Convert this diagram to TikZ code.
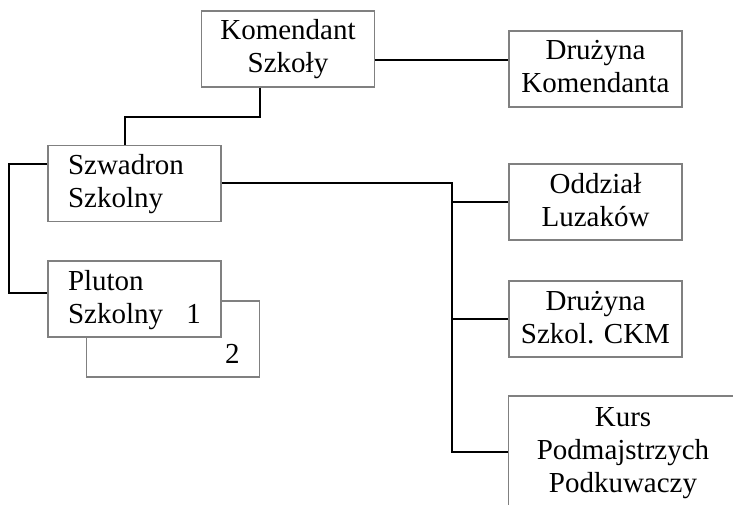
\documentclass[tikz,border=0pt]{standalone}
\usepackage{fontspec}
\setmainfont{Liberation Serif}
\definecolor{boxgray}{RGB}{128,128,128}
\newcommand\ls{\rule[-9pt]{0pt}{33pt}}
\begin{document}
\begin{tikzpicture}[x=1pt,y=-1pt,
  box/.style={draw=boxgray, line width=1.4pt, fill=white, minimum width=173pt,
    minimum height=76pt, inner sep=0pt, align=center, font=\fontsize{29}{33}\selectfont},
  lbox/.style={box, align=left, text width=133pt, inner xsep=20pt},
  rbox/.style={box, align=right, text width=133pt, inner xsep=20pt},
  conn/.style={line width=1.8pt, black}]
\useasboundingbox (0,0) rectangle (733,505);
\clip (0,0) rectangle (733,505);
% nodes
\node[box] (kom) at (288,49) {\ls Komendant\\\ls Szkoły};
\node[box] (dk) at (595.5,69) {\ls Drużyna\\\ls Komendanta};
\node[lbox] (szw) at (134.5,183.5) {\ls Szwadron\\\ls Szkolny};
\node[rbox] (plu2) at (173,339) {\ls\\\ls 2};
\node[lbox] (plu) at (134.5,299) {\ls Pluton\\\ls Szkolny\hskip0pt plus 1fill 1\hspace*{-3pt}};
\node[box] (odd) at (595.5,202) {\ls Oddział\\\ls Luzaków};
\node[box] (ckm) at (595.5,319) {\ls Drużyna\\\ls Szkol. CKM};
\node[box, draw=none, fill=none, anchor=north, minimum width=228pt, minimum height=0pt, inner ysep=6pt]
  (kurs) at (623,396) {\ls Kurs\\\ls Podmajstrzych\\\ls Podkuwaczy};
\draw[boxgray, line width=1.4pt] (kurs.north west) rectangle ++(228,150);
% connectors
\coordinate (bus) at (452,183);
\draw[conn] (kom.east |- 0,60) -- (dk.west |- 0,60);
\draw[conn] (kom.south -| 260,0) |- (125,117) -- (szw.north -| 125,0);
\draw[conn] (szw.west |- 0,164) -| (9,293) -- (plu.west |- 0,293);
\draw[conn] (szw.east |- bus) -- (bus) |- (kurs.west);
\draw[conn] (bus |- odd.west) -- (odd.west);
\draw[conn] (bus |- ckm.west) -- (ckm.west);
\end{tikzpicture}
\end{document}
